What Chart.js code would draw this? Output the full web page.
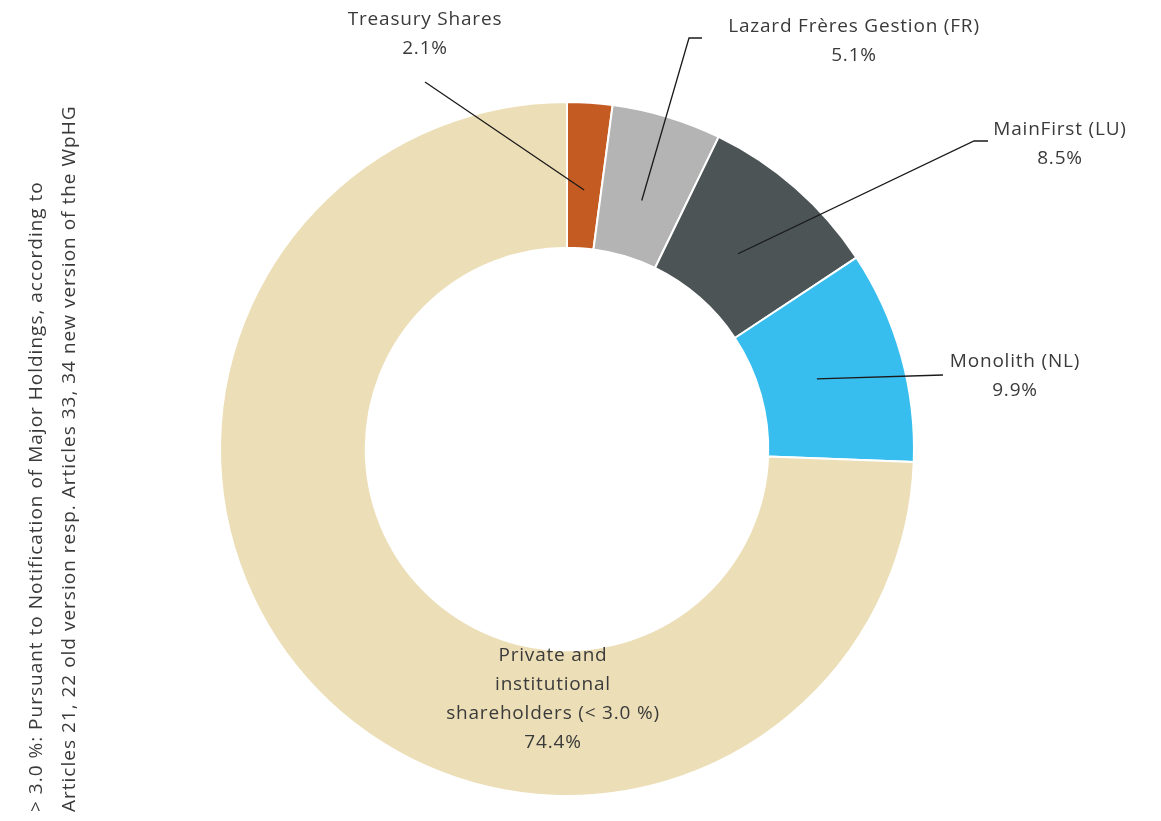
<!DOCTYPE html>
<html>
<head>
<meta charset="utf-8">
<script src="https://cdn.jsdelivr.net/npm/chart.js@4"></script>
<style>
  html, body { margin: 0; padding: 0; background: #fff; }
  #wrap { position: relative; width: 1161px; height: 821px; }
</style>
</head>
<body>
<div id="wrap"><canvas id="chart" width="1161" height="821"></canvas></div>
<script>
'use strict';

const holders = ['Treasury Shares', 'Lazard Frères Gestion (FR)', 'MainFirst (LU)', 'Monolith (NL)', 'Private and institutional shareholders (< 3.0 %)'];
const shares = [2.1, 5.1, 8.5, 9.9, 74.4];
const sliceColors = ['#C45B23', '#B4B4B4', '#4C5456', '#38BEEE', '#ECDEB7'];
const footnote = ['> 3.0 %: Pursuant to Notification of Major Holdings, according to',
  'Articles 21, 22 old version resp. Articles 33, 34 new version of the WpHG'];

// label placement (text lines, text centre, optional leader elbow)
const labelSpots = [
  { lines: ['Treasury Shares'], x: 425, y: 20, from: [[425, 82]] },
  { lines: ['Lazard Frères Gestion (FR)'], x: 854, y: 27, from: [[702, 38], [689, 38]] },
  { lines: ['MainFirst (LU)'], x: 1060, y: 130, from: [[988, 141], [974, 141]] },
  { lines: ['Monolith (NL)'], x: 1015, y: 362, from: [[943, 375]] },
  { lines: ['Private and', 'institutional', 'shareholders (< 3.0 %)'], x: 553, y: 656, from: null }
];

const FONT = '19px "Open Sans", "Noto Sans", sans-serif';
const TEXT = '#3a3a3a';

const labelPlugin = {
  id: 'donutLabels',
  afterDatasetsDraw(chart) {
    const ctx = chart.ctx;
    const arcs = chart.getDatasetMeta(0).data;
    ctx.save();
    ctx.font = FONT;
    ctx.letterSpacing = '0.8px';
    ctx.textAlign = 'center';
    ctx.textBaseline = 'middle';
    arcs.forEach((arc, i) => {
      const spot = labelSpots[i];
      const lines = spot.lines.concat([shares[i].toFixed(1) + '%']);
      if (spot.from) {
        const p = arc.getProps(['x', 'y', 'startAngle', 'endAngle', 'innerRadius', 'outerRadius'], true);
        const mid = (p.startAngle + p.endAngle) / 2;
        const r = p.innerRadius + 0.4 * (p.outerRadius - p.innerRadius);
        const ax = p.x + Math.cos(mid) * r;
        const ay = p.y + Math.sin(mid) * r;
        ctx.strokeStyle = '#1a1a1a';
        ctx.lineWidth = 1.3;
        ctx.beginPath();
        ctx.moveTo(spot.from[0][0], spot.from[0][1]);
        for (let k = 1; k < spot.from.length; k++) ctx.lineTo(spot.from[k][0], spot.from[k][1]);
        ctx.lineTo(ax, ay);
        ctx.stroke();
      }
      ctx.fillStyle = TEXT;
      lines.forEach((t, k) => ctx.fillText(t, spot.x, spot.y + k * 29));
    });

    // rotated footnote on the left, both lines start near the bottom
    ctx.font = '19px "Open Sans", "Noto Sans", sans-serif';
    ctx.letterSpacing = '1px';
    ctx.textAlign = 'left';
    footnote.forEach((t, k) => {
      ctx.save();
      ctx.translate(37 + k * 33, 812);
      ctx.rotate(-Math.PI / 2);
      ctx.fillText(t, 0, 0);
      ctx.restore();
    });
    ctx.restore();
  }
};

new Chart(document.getElementById('chart').getContext('2d'), {
  type: 'doughnut',
  data: {
    labels: holders,
    datasets: [{
      data: shares,
      backgroundColor: sliceColors,
      borderColor: '#ffffff',
      borderWidth: 2
    }]
  },
  options: {
    responsive: false,
    animation: false,
    cutout: '58%',
    layout: { padding: { left: 219, right: 246, top: 101, bottom: 24 } },
    plugins: {
      legend: { display: false },
      tooltip: { enabled: false }
    }
  },
  plugins: [labelPlugin]
});
</script>
</body>
</html>
